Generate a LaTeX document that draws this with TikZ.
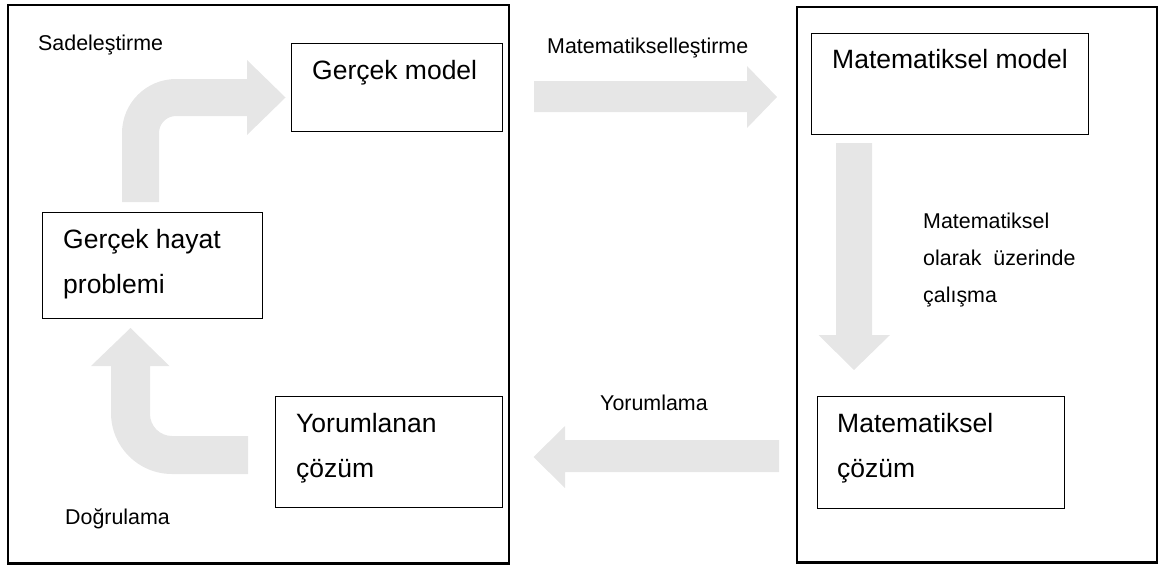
\documentclass[tikz,border=0pt]{standalone}
\usepackage{fontspec}
\setmainfont{Liberation Sans}
\definecolor{arrowgray}{RGB}{230,230,230}
\begin{document}
\begin{tikzpicture}[x=1pt,y=-1pt,
  frame/.style={draw=black, line width=2.2pt},
  box/.style={draw=black, line width=1.2pt, anchor=north west, inner sep=0pt},
  bigtext/.style={font=\fontsize{26.5}{45}\selectfont, anchor=base west, inner sep=0pt, align=left},
  smalltext/.style={font=\fontsize{21.4}{37}\selectfont, anchor=base west, inner sep=0pt, align=left},
  blockarrow/.style={fill=arrowgray, draw=none}]
\useasboundingbox (0,0) rectangle (1161,565);

% bent arrow: real-life problem -> real model
\fill[blockarrow] (122,202) -- (122,133)
  .. controls (122,103.2) and (146.2,79) .. (176,79)
  -- (247,79) -- (247,60) -- (285.5,97.5) -- (247,135) -- (247,116) -- (176,116)
  .. controls (166.6,116) and (159,123.6) .. (159,133)
  -- (159,202) -- cycle;

% straight arrow: real model -> mathematical model
\fill[blockarrow] (534,81) -- (747,81) -- (747,66) -- (777,97) -- (747,128)
  -- (747,112) -- (534,112) -- cycle;

% straight arrow: mathematical model -> mathematical solution
\fill[blockarrow] (836,143) -- (872,143) -- (872,335) -- (890,335) -- (854,370)
  -- (818.5,335) -- (836,335) -- cycle;

% straight arrow: mathematical solution -> interpreted solution
\fill[blockarrow] (779,440) -- (565,440) -- (565,426) -- (533.5,457) -- (565,488)
  -- (565,472) -- (779,472) -- cycle;

% bent arrow: interpreted solution -> real-life problem
\fill[blockarrow] (248,436) -- (172,436)
  .. controls (159.9,436) and (150,426.1) .. (150,414)
  -- (150,366) -- (169.5,366) -- (130.5,328) -- (91,366) -- (111,366) -- (111,413)
  .. controls (111,446.7) and (138.3,474) .. (172,474)
  -- (248,474) -- cycle;

% two outer frames
\draw[frame] (8,5) rectangle (509,563.5);
\draw[frame] (797,7) rectangle (1157,562.5);

% boxes
\node[box, minimum width=211pt, minimum height=88pt] (model) at (291,43) {};
\node[box, minimum width=220pt, minimum height=106pt] (problem) at (42,212) {};
\node[box, minimum width=227pt, minimum height=111pt] (interp) at (275,396) {};
\node[box, minimum width=277pt, minimum height=101pt] (mmodel) at (811,33) {};
\node[box, minimum width=247pt, minimum height=112pt] (msol) at (817,396) {};

% box texts (base anchor sits on the last line)
\node[bigtext] (tmodel) at (312,79) {Gerçek model};
\node[bigtext] (tproblem) at (63,293) {Gerçek hayat\\problemi};
\node[bigtext] (tinterp) at (296,477) {Yorumlanan\\çözüm};
\node[bigtext] (tmmodel) at (832,68) {Matematiksel model};
\node[bigtext] (tmsol) at (837,477) {Matematiksel\\çözüm};

% step labels
\node[smalltext] (lsimp) at (38,50) {Sadeleştirme};
\node[smalltext] (lmath) at (547,53) {Matematikselleştirme};
\node[smalltext] (lwork) at (923,302) {Matematiksel\\olarak\ \ üzerinde\\çalışma};
\node[smalltext] (linterp) at (600,410) {Yorumlama};
\node[smalltext] (lverify) at (65,524) {Doğrulama};
\end{tikzpicture}
\end{document}
